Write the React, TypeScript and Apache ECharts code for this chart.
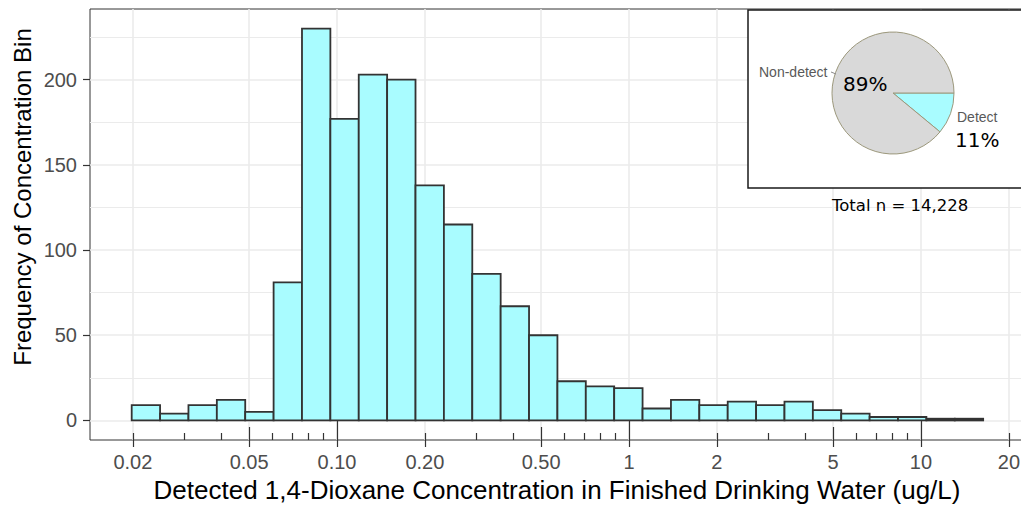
import React, { useEffect, useRef } from 'react';
import * as echarts from 'echarts';

// ---- data ----
const binCounts = [9, 4, 9, 12, 5, 81, 230, 177, 203, 200, 138, 115, 86, 67, 50, 23, 20, 19, 7, 12, 9, 11, 9, 11, 6, 4, 2, 2, 1, 1];
const binStartLog = -1.7031; // log10 of left edge of first bin
const binWidthLog = 0.0972; // bin width in log10 units
const xBreaks = [0.02, 0.05, 0.1, 0.2, 0.5, 1, 2, 5, 10, 20];
const xBreakLabels = ['0.02', '0.05', '0.10', '0.20', '0.50', '1', '2', '5', '10', '20'];
const logTickLong = [0.1, 1, 10];
const logTickMid = [0.05, 0.5, 5];
const logTickShort = [0.02, 0.03, 0.04, 0.06, 0.07, 0.08, 0.09, 0.2, 0.3, 0.4, 0.6, 0.7, 0.8, 0.9, 2, 3, 4, 6, 7, 8, 9, 20];
const yBreaks = [0, 50, 100, 150, 200];
const yMinorBreaks = [25, 75, 125, 175, 225];
const pieNames = ['Detect', 'Non-detect'];
const pieValues = [11, 89];
const pieLabels = ['11%', '89%'];
const totalLabel = 'Total n = 14,228';

const X_MIN = -1.8459;
const X_MAX = 1.3562;
const Y_MIN = -11.5;
const Y_MAX = 241.5;

const AX = "'Liberation Sans', Arial, sans-serif";
const DV = "'DejaVu Sans', Verdana, sans-serif";
const BAR_FILL = '#A9FCFF';
const DARK = '#333333';
const GRID = '#EBEBEB';

export default function App() {
  const ref = useRef<HTMLDivElement>(null);
  useEffect(() => {
    if (!ref.current) return;
    const chart = echarts.init(ref.current, undefined, { renderer: 'svg' });
    const lg = (arr: number[]) => arr.map((v) => Math.log10(v));
    const histData = binCounts.map((c, i) => [
      binStartLog + i * binWidthLog,
      binStartLog + (i + 1) * binWidthLog,
      c,
    ]);
    const baseX = {
      type: 'value' as const,
      min: X_MIN,
      max: X_MAX,
      position: 'bottom' as const,
      gridIndex: 0,
      axisLine: { show: false, onZero: false },
      axisLabel: { show: false },
      splitLine: { show: false },
    };
    const option: any = {
      animation: false,
      backgroundColor: '#ffffff',
      grid: {
        left: 90,
        top: 9,
        right: 5,
        bottom: 65,
        show: true,
        borderColor: DARK,
        borderWidth: 1,
        backgroundColor: '#ffffff',
      },
      xAxis: [
        {
          ...baseX,
          axisTick: { show: true, length: 7, customValues: lg(xBreaks), lineStyle: { color: DARK, width: 1.2 } },
          axisLabel: {
            show: true,
            customValues: lg(xBreaks),
            margin: 12,
            fontFamily: AX,
            fontSize: 20,
            color: '#4D4D4D',
            formatter: (v: number) => {
              const i = xBreaks.findIndex((b) => Math.abs(Math.log10(b) - v) < 1e-6);
              return i >= 0 ? xBreakLabels[i] : '';
            },
          },
          splitLine: { show: true, lineStyle: { color: GRID, width: 1.6 } },
        },
        { ...baseX, axisTick: { show: true, inside: true, length: 21, customValues: lg(logTickLong), lineStyle: { color: DARK, width: 1.2 } } },
        { ...baseX, axisTick: { show: true, inside: true, length: 13, customValues: lg(logTickMid), lineStyle: { color: DARK, width: 1.2 } } },
        { ...baseX, axisTick: { show: true, inside: true, length: 7, customValues: lg(logTickShort), lineStyle: { color: DARK, width: 1.2 } } },
      ],
      yAxis: [
        {
          type: 'value',
          min: Y_MIN,
          max: Y_MAX,
          position: 'left',
          axisLine: { show: false, onZero: false },
          axisTick: { show: true, length: 7, customValues: yBreaks, lineStyle: { color: DARK, width: 1.2 } },
          axisLabel: {
            show: true,
            customValues: yBreaks,
            margin: 13,
            fontFamily: AX,
            fontSize: 20,
            color: '#4D4D4D',
          },
          splitLine: { show: true, lineStyle: { color: GRID, width: 1.6 } },
        },
        {
          type: 'value',
          min: Y_MIN,
          max: Y_MAX,
          position: 'left',
          axisLine: { show: false, onZero: false },
          axisTick: { show: false, customValues: yMinorBreaks },
          axisLabel: { show: false },
          splitLine: { show: true, lineStyle: { color: GRID, width: 1 } },
        },
      ],
      series: [
        {
          type: 'custom',
          xAxisIndex: 0,
          yAxisIndex: 0,
          z: 3,
          data: histData,
          encode: { x: [0, 1], y: 2 },
          renderItem: (params: any, api: any) => {
            const x0 = api.value(0);
            const x1 = api.value(1);
            const c = api.value(2);
            const p0 = api.coord([x0, c]);
            const p1 = api.coord([x1, 0]);
            return {
              type: 'rect',
              shape: { x: p0[0], y: p0[1], width: p1[0] - p0[0], height: p1[1] - p0[1] },
              style: { fill: BAR_FILL, stroke: DARK, lineWidth: 1.8 },
            };
          },
        },
        {
          type: 'pie',
          z: 5,
          center: [893, 93],
          radius: 61,
          startAngle: 0,
          clockwise: true,
          label: { show: false },
          labelLine: { show: false },
          emphasis: { disabled: true },
          itemStyle: { borderColor: '#9C987C', borderWidth: 1 },
          data: pieNames.map((n, i) => ({
            name: n,
            value: pieValues[i],
            itemStyle: { color: i === 0 ? BAR_FILL : '#D9D9D9' },
          })),
        },
      ],
      graphic: [
        {
          type: 'rect',
          z: 4,
          shape: { x: 748, y: 10, width: 300, height: 178 },
          style: { fill: '#ffffff', stroke: '#1a1a1a', lineWidth: 1.5 },
        },
        {
          type: 'text',
          z: 6,
          x: 759,
          y: 72,
          style: { text: pieNames[1], font: `14px ${AX}`, fill: '#595959', align: 'left', verticalAlign: 'middle', textAlign: 'left', textVerticalAlign: 'middle' },
        },
        {
          type: 'line',
          z: 6,
          shape: { x1: 831, y1: 72, x2: 836, y2: 74 },
          style: { stroke: '#8a8a8a', lineWidth: 1 },
        },
        {
          type: 'text',
          z: 6,
          x: 843,
          y: 84,
          style: { text: pieLabels[1], font: `20px ${DV}`, fill: '#000000', align: 'left', verticalAlign: 'middle', textAlign: 'left', textVerticalAlign: 'middle' },
        },
        {
          type: 'text',
          z: 6,
          x: 957,
          y: 117,
          style: { text: pieNames[0], font: `14px ${AX}`, fill: '#595959', align: 'left', verticalAlign: 'middle', textAlign: 'left', textVerticalAlign: 'middle' },
        },
        {
          type: 'text',
          z: 6,
          x: 955,
          y: 140,
          style: { text: pieLabels[0], font: `20px ${DV}`, fill: '#000000', align: 'left', verticalAlign: 'middle', textAlign: 'left', textVerticalAlign: 'middle' },
        },
        {
          type: 'text',
          z: 6,
          x: 832,
          y: 205,
          style: { text: totalLabel, font: `16.5px ${DV}`, fill: '#000000', align: 'left', verticalAlign: 'middle', textAlign: 'left', textVerticalAlign: 'middle' },
        },
        {
          type: 'text',
          z: 6,
          x: 557,
          y: 490,
          style: {
            text: 'Detected 1,4-Dioxane Concentration in Finished Drinking Water (ug/L)',
            font: `26px ${AX}`,
            fill: '#000000',
            align: 'center',
            verticalAlign: 'middle',
            textAlign: 'center',
            textVerticalAlign: 'middle',
          },
        },
        {
          type: 'text',
          z: 6,
          x: 22,
          y: 197,
          rotation: Math.PI / 2,
          style: {
            text: 'Frequency of Concentration Bin',
            font: `24px ${AX}`,
            fill: '#000000',
            align: 'center',
            verticalAlign: 'middle',
            textAlign: 'center',
            textVerticalAlign: 'middle',
          },
        },
      ],
    };
    chart.setOption(option);
    return () => chart.dispose();
  }, []);
  return (
    <div style={{ position: 'fixed', left: 0, top: 0, width: 1021, height: 505, overflow: 'hidden', background: '#fff' }}>
      <div ref={ref} style={{ width: 1030, height: 505 }} />
    </div>
  );
}
